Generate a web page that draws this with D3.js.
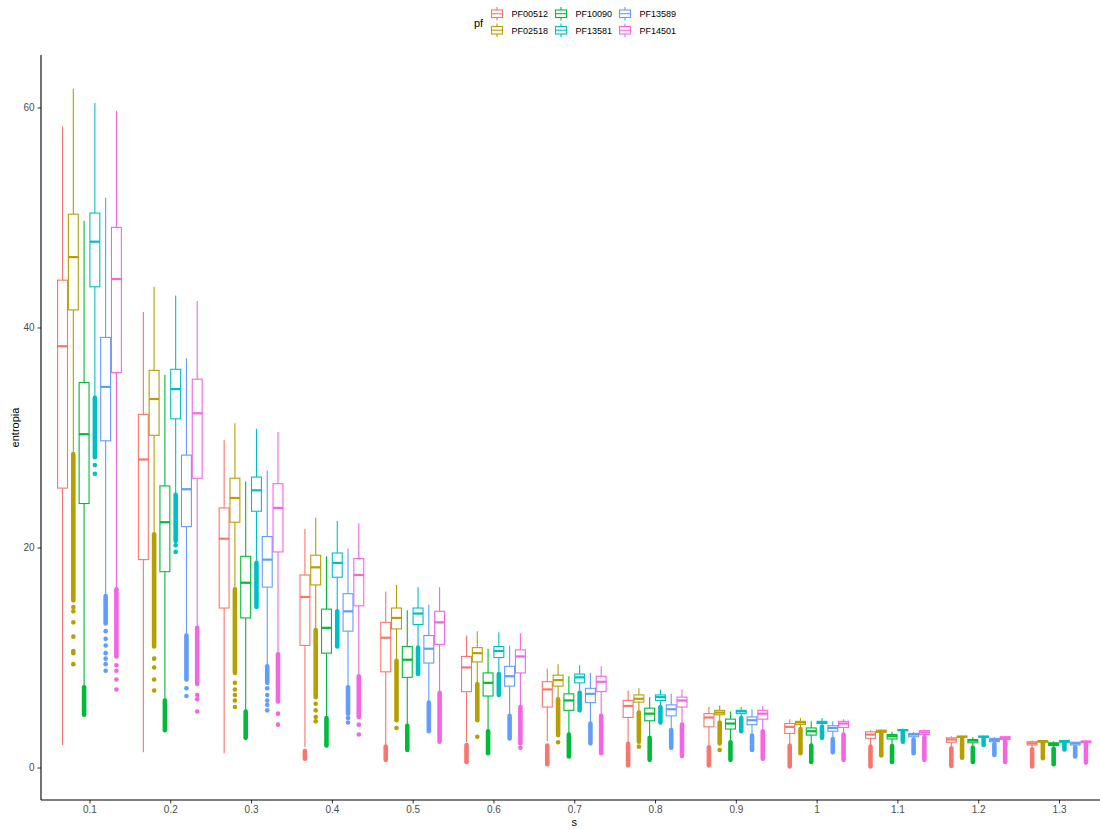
<!DOCTYPE html>
<html><head><meta charset="utf-8">
<script src="https://cdn.jsdelivr.net/npm/d3@7"></script>
<style>body{margin:0;background:#fff;} text{font-family:"Liberation Sans",Arial,sans-serif;}</style>
</head><body><svg id="c" width="1100" height="829"></svg>
<script>
const categories = ["0.1","0.2","0.3","0.4","0.5","0.6","0.7","0.8","0.9","1","1.1","1.2","1.3"];
const series = ["PF00512","PF02518","PF10090","PF13581","PF13589","PF14501"];
const colors = ["#F8766D","#B79F00","#00BA38","#00BFC4","#619CFF","#F564E3"];
const yTicks = [0,20,40,60];

// [whiskerLow, Q1, median, Q3, whiskerHigh] per category
const stats_PF00512 = [[2.05,25.4,38.3,44.3,58.3],[1.4,18.9,28.0,32.1,41.4],[1.3,14.5,20.8,23.6,29.8],[1.9,11.1,15.5,17.5,21.7],[2.0,8.7,11.8,13.2,16.0],[2.3,6.9,9.1,10.1,12.0],[2.4,5.5,7.1,7.8,9.0],[2.3,4.55,5.6,6.1,7.0],[2.0,3.7,4.55,4.9,5.5],[2.05,3.1,3.7,4.0,4.4],[2.0,2.65,3.0,3.25,3.4],[1.9,2.3,2.55,2.7,2.85],[1.8,2.05,2.2,2.35,2.45]];
const stats_PF02518 = [[28.7,41.6,46.4,50.3,61.7],[21.4,30.2,33.5,36.1,43.7],[16.4,22.3,24.5,26.3,31.3],[12.65,16.6,18.2,19.3,22.7],[9.8,12.6,13.6,14.5,16.6],[7.7,9.6,10.4,10.9,12.4],[6.3,7.4,7.95,8.4,9.4],[5.1,5.95,6.25,6.6,7.2],[4.2,4.8,5.0,5.2,5.65],[3.6,3.9,4.1,4.2,4.5],[3.1,3.2,3.3,3.4,3.45],[2.65,2.75,2.8,2.85,2.9],[2.25,2.3,2.4,2.45,2.45]];
const stats_PF10090 = [[7.4,24.0,30.3,35.0,49.7],[6.2,17.8,22.3,25.6,35.7],[5.2,13.6,16.8,19.2,26.0],[4.6,10.4,12.7,14.4,19.2],[3.9,8.2,9.8,11.0,14.3],[3.4,6.5,7.7,8.6,10.8],[3.1,5.2,6.1,6.7,8.3],[2.8,4.25,4.9,5.4,6.4],[2.4,3.5,4.0,4.4,5.1],[2.1,2.95,3.3,3.6,4.2],[2.05,2.6,2.85,3.0,3.25],[1.85,2.25,2.45,2.55,2.75],[1.75,2.0,2.15,2.25,2.4]];
const stats_PF13581 = [[33.7,43.7,47.8,50.4,60.4],[24.9,31.7,34.4,36.2,42.9],[18.7,23.3,25.2,26.4,30.8],[14.3,17.3,18.6,19.5,22.4],[11.0,13.0,14.0,14.5,16.4],[8.6,10.0,10.6,11.0,12.3],[6.9,7.7,8.2,8.5,9.3],[5.6,6.1,6.4,6.6,7.1],[4.6,4.9,5.1,5.2,5.5],[3.8,4.0,4.1,4.2,4.5],[3.25,3.35,3.4,3.45,3.55],[2.65,2.75,2.8,2.85,2.9],[2.25,2.3,2.4,2.45,2.45]];
const stats_PF13589 = [[15.7,29.7,34.6,39.1,51.8],[12.1,21.9,25.3,28.4,37.2],[9.3,16.4,18.9,21.0,27.0],[7.4,12.4,14.2,15.8,19.9],[6.0,9.5,10.8,12.0,14.8],[4.8,7.4,8.3,9.2,11.1],[4.1,5.9,6.7,7.2,8.6],[3.5,4.7,5.3,5.7,6.7],[2.95,3.9,4.3,4.6,5.3],[2.65,3.3,3.6,3.8,4.2],[2.65,2.8,3.0,3.1,3.25],[2.2,2.35,2.5,2.65,2.75],[1.9,2.05,2.2,2.3,2.35]];
const stats_PF14501 = [[16.3,35.9,44.4,49.1,59.7],[12.8,26.3,32.2,35.3,42.4],[10.4,19.6,23.6,25.8,30.5],[8.4,14.7,17.5,19.0,22.2],[6.9,11.2,13.2,14.2,16.4],[5.6,8.6,10.1,10.7,12.2],[4.8,6.9,7.8,8.3,9.2],[4.0,5.5,6.1,6.4,7.1],[3.4,4.4,4.9,5.2,5.6],[3.1,3.65,4.0,4.2,4.4],[2.8,3.0,3.2,3.35,3.45],[2.45,2.55,2.7,2.8,2.85],[2.15,2.25,2.35,2.4,2.45]];

// outliers: [denseTop, denseBottom] run of overlapping points (null if none), plus isolated points
const dense_PF00512 = [null,null,null,[1.5,0.8],[1.9,0.7],[2.05,0.5],[2.0,0.3],[2.15,0.2],[1.85,0.2],[2.0,0.1],[1.9,0.1],[1.75,0.15],[1.65,0.1]];
const dense_PF02518 = [[28.5,15.2],[21.2,11.0],[16.2,8.6],[12.5,6.4],[9.7,4.3],[7.6,4.3],[6.2,2.95],[5.0,2.35],[4.1,2.2],[3.5,1.3],[3.05,1.1],[2.6,0.9],[2.2,0.85]];
const dense_PF10090 = [[7.3,4.8],[6.1,3.4],[5.1,2.7],[4.5,2.0],[3.8,1.6],[3.3,1.3],[3.0,1.0],[2.7,0.7],[2.3,0.7],[2.0,0.5],[1.95,0.5],[1.8,0.5],[1.7,0.3]];
const dense_PF13581 = [[33.6,28.2],[24.8,20.6],[18.6,14.6],[14.2,11.0],[10.9,8.5],[8.5,6.6],[6.8,5.2],[5.5,4.1],[4.5,3.3],[3.7,2.7],[3.2,2.35],[2.6,2.05],[2.2,1.65]];
const dense_PF13589 = [[15.6,13.1],[12.0,8.0],[9.2,7.7],[7.3,4.9],[5.9,3.3],[4.7,2.65],[4.0,2.2],[3.4,1.8],[2.9,1.6],[2.6,1.4],[2.55,1.3],[2.15,1.15],[1.85,1.0]];
const dense_PF14501 = [[16.2,10.1],[12.7,7.6],[10.3,6.0],[8.3,4.6],[6.8,2.35],[5.5,2.2],[4.7,1.3],[3.9,1.05],[3.3,0.8],[3.0,0.7],[2.75,0.7],[2.4,0.5],[2.1,0.45]];
const pts_PF00512 = [[],[],[],[],[],[],[],[],[],[],[],[],[]];
const pts_PF02518 = [[14.6,14.2,13.2,11.9,10.6,10.4,9.4],[9.9,9.1,8.0,7.0],[7.7,7.1,6.6,6.1,5.5],[5.8,5.2,4.6,4.2],[3.6],[2.8],[2.3],[1.9],[1.6],[],[],[],[]];
const pts_PF10090 = [[],[],[],[],[],[],[],[],[],[],[],[],[]];
const pts_PF13581 = [[27.5,26.7],[20.2,19.6],[],[],[],[],[],[],[],[],[],[],[]];
const pts_PF13589 = [[12.4,11.7,11.1,10.4,9.9,9.4,8.8],[7.2,6.5],[7.2,6.6,6.1,5.7,5.2],[4.5,4.1],[],[],[],[],[],[],[],[],[]];
const pts_PF14501 = [[9.3,8.8,8.0,7.1],[6.6,6.2,5.1],[4.9,3.9],[3.9,3.0],[],[1.8],[],[],[],[],[],[],[]];

const statsBySeries = [stats_PF00512,stats_PF02518,stats_PF10090,stats_PF13581,stats_PF13589,stats_PF14501];
const denseBySeries = [dense_PF00512,dense_PF02518,dense_PF10090,dense_PF13581,dense_PF13589,dense_PF14501];
const ptsBySeries = [pts_PF00512,pts_PF02518,pts_PF10090,pts_PF13581,pts_PF13589,pts_PF14501];

const svg = d3.select("#c");
const panel = {left:41, right:1107.5, top:55, bottom:800};
const y = d3.scaleLinear().domain([-2.95, 64.77]).range([panel.bottom, panel.top]);
const unit = (panel.right - panel.left) / 13.2;
const x = d3.scalePoint().domain(categories).range([panel.left + 0.6*unit, panel.right - 0.6*unit]);
const inner = d3.scaleBand().domain(series).range([-0.4*unit, 0.4*unit]);
const boxW = inner.bandwidth()*0.92;
const color = d3.scaleOrdinal().domain(series).range(colors);

const g = svg.append("g");
series.forEach((s, si) => {
  const sg = g.append("g").attr("stroke", color(s)).attr("fill", "none");
  categories.forEach((c, ci) => {
    const st = statsBySeries[si][ci];
    const cx = x(c) + inner(s) + inner.bandwidth()/2;
    sg.append("line").attr("x1",cx).attr("x2",cx).attr("y1",y(st[3])).attr("y2",y(st[4])).attr("stroke-width",1.1);
    sg.append("line").attr("x1",cx).attr("x2",cx).attr("y1",y(st[1])).attr("y2",y(st[0])).attr("stroke-width",1.1);
    sg.append("rect").attr("x",cx-boxW/2).attr("width",boxW).attr("y",y(st[3])).attr("height",Math.max(0.5,y(st[1])-y(st[3])))
      .attr("fill","#fff").attr("stroke-width",1.1);
    sg.append("line").attr("x1",cx-boxW/2).attr("x2",cx+boxW/2).attr("y1",y(st[2])).attr("y2",y(st[2])).attr("stroke-width",2.2);
    const d = denseBySeries[si][ci];
    if (d) sg.append("line").attr("x1",cx).attr("x2",cx).attr("y1",y(d[0])).attr("y2",y(d[1]))
      .attr("stroke-width",4.6).attr("stroke-linecap","round");
    ptsBySeries[si][ci].forEach(v => {
      sg.append("circle").attr("cx",cx).attr("cy",y(v)).attr("r",2.3).attr("fill",color(s)).attr("stroke","none");
    });
  });
});

const ax = svg.append("g").attr("transform",`translate(0,${panel.bottom})`)
  .call(d3.axisBottom(x).tickSize(3.5).tickPadding(2));
const ay = svg.append("g").attr("transform",`translate(${panel.left},0)`)
  .call(d3.axisLeft(y).tickValues(yTicks).tickSize(3.5).tickPadding(3));
[ax, ay].forEach(a => {
  a.select(".domain").remove();
  a.selectAll(".tick line").attr("stroke","#333").attr("stroke-width",1);
  a.selectAll(".tick text").attr("fill","#4d4d4d").style("font-size","10px").style("font-family","Liberation Sans, Arial, sans-serif");
});
svg.append("line").attr("x1",panel.left).attr("x2",1100).attr("y1",panel.bottom).attr("y2",panel.bottom).attr("stroke","#000").attr("stroke-width",1.1);
svg.append("line").attr("x1",panel.left).attr("x2",panel.left).attr("y1",panel.top).attr("y2",panel.bottom).attr("stroke","#000").attr("stroke-width",1.1);

svg.append("text").attr("x",(panel.left+panel.right)/2).attr("y",826).attr("text-anchor","middle").style("font-size","11px").text("s");
svg.append("text").attr("transform",`translate(19,${(panel.top+panel.bottom)/2}) rotate(-90)`).attr("text-anchor","middle").style("font-size","11px").text("entropia");

const lg = svg.append("g");
lg.append("text").attr("x",474).attr("y",27).style("font-size","11px").text("pf");
const colX = [490.5, 554.5, 618.5], rowY = [5.5, 22];
series.forEach((s, i) => {
  const col = Math.floor(i/2), row = i%2;
  const kx = colX[col], ky = rowY[row];
  const kg = lg.append("g").attr("stroke", color(s)).attr("fill","none").attr("stroke-width",1.1);
  const mx = kx + 6.5;
  kg.append("line").attr("x1",mx).attr("x2",mx).attr("y1",ky+1.5).attr("y2",ky+4.5);
  kg.append("line").attr("x1",mx).attr("x2",mx).attr("y1",ky+12).attr("y2",ky+15);
  kg.append("rect").attr("x",kx+1).attr("y",ky+4.5).attr("width",11).attr("height",7.5).attr("fill","#fff");
  kg.append("line").attr("x1",kx+1).attr("x2",kx+12).attr("y1",ky+8.2).attr("y2",ky+8.2);
  lg.append("text").attr("x",kx+21).attr("y",ky+11.5).style("font-size","9px").attr("fill","#000").text(s);
});
</script></body></html>
